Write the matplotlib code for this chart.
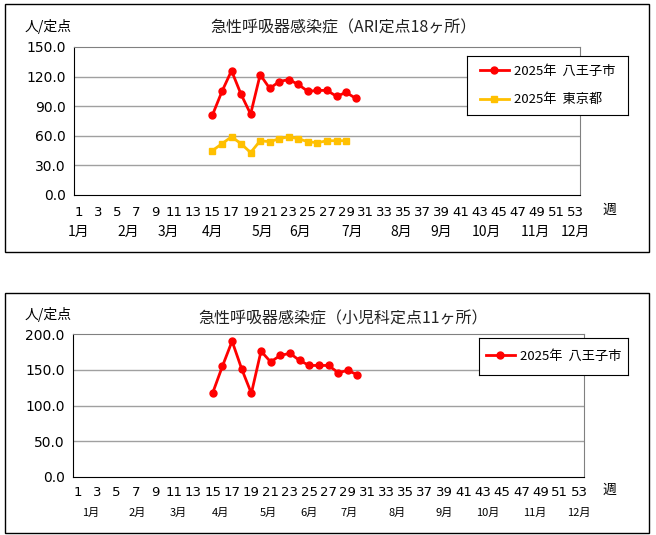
import matplotlib
matplotlib.use("Agg")
import matplotlib.pyplot as plt
from matplotlib.patches import Rectangle

plt.rcParams["font.family"] = ["Noto Sans CJK JP", "DejaVu Sans"]

weeks = list(range(15, 31))
ari_hachioji = [81, 105, 126, 102, 82, 122, 108, 115, 117, 112, 105, 106, 106, 100, 104, 98]
ari_tokyo_weeks = list(range(15, 30))
ari_tokyo = [45, 52, 59, 52, 43, 55, 54, 57, 59, 57, 54, 53, 55, 55, 55]
ped_hachioji = [118, 155, 190, 151, 117, 176, 161, 170, 173, 163, 156, 156, 156, 146, 149, 143]
week_ticks = list(range(1, 54, 2))
months = ["1月", "2月", "3月", "4月", "5月", "6月", "7月", "8月", "9月", "10月", "11月", "12月"]
month_pos_top = [1, 6.2, 10.4, 15, 20.2, 24.2, 29.6, 34.8, 39, 43.7, 48.8, 53]
month_pos_bot = [2.3, 7.2, 11.4, 15.8, 20.8, 25, 29.1, 34.1, 39, 43.5, 48.4, 53]

W, H = 656, 535
fig = plt.figure(figsize=(W/100, H/100), dpi=100)

def fx(x): return x / W
def fy(y): return 1 - y / H

def frame(x0, y0, x1, y1):
    fig.patches.append(Rectangle((fx(x0), fy(y1)), fx(x1)-fx(x0), fy(y0)-fy(y1),
                                 transform=fig.transFigure, fill=False, ec="black", lw=1))

def panel(px0, py0, px1, py1, ymax, ystep, title, tlabel_y, mlabel_y, mpos, mfs, series, leg, ty, uy):
    ax = fig.add_axes([fx(px0), fy(py1), fx(px1)-fx(px0), fy(py0)-fy(py1)])
    ax.set_xlim(0.5, 53.5)
    ax.set_ylim(0, ymax)
    yt = [i*ystep for i in range(int(ymax/ystep)+1)]
    ax.set_yticks(yt)
    ax.set_yticklabels([f"{v:.1f}" for v in yt], fontsize=10, family="DejaVu Sans")
    ax.tick_params(axis="y", length=0, pad=6)
    ax.set_xticks([])
    for v in yt[1:-1]:
        ax.axhline(v, color="#a0a0a0", lw=1, zorder=0)
    for s in ax.spines.values():
        s.set_color("#808080")
    ax.spines["left"].set_color("black")
    ax.spines["bottom"].set_color("black")
    handles = []
    for xs, ys, c, m, lab in series:
        h, = ax.plot(xs, ys, color=c, marker=m, ms=5, lw=2, label=lab)
        handles.append(h)
    for w in week_ticks:
        xd = ax.transData.transform((w, 0))[0]
        fig.text(xd / fig.bbox.width, fy(tlabel_y), str(w), fontsize=9.5,
                 family="DejaVu Sans", ha="center", va="center")
    for p, mname in zip(mpos, months):
        xd = ax.transData.transform((p, 0))[0]
        fig.text(xd / fig.bbox.width, fy(mlabel_y), mname, fontsize=mfs, ha="center", va="center")
    fig.text(fx(609), fy(tlabel_y-3), "週", fontsize=10, ha="center", va="center")
    fig.text(fx(343), fy(ty), title, fontsize=11.5, ha="center", va="center", color="#222222")
    fig.text(fx(48), fy(uy), "人/定点", fontsize=10, ha="center", va="center")
    lx0, ly0, lx1, ly1 = leg
    lax = fig.add_axes([fx(lx0), fy(ly1), fx(lx1)-fx(lx0), fy(ly0)-fy(ly1)])
    lax.set_xticks([]); lax.set_yticks([])
    for s in lax.spines.values():
        s.set_color("black")
    lax.legend(handles=handles, loc="center", frameon=False, fontsize=9.5,
               labelspacing=1.2, handlelength=2.2, handletextpad=0.4)

frame(5, 4, 649, 252)
frame(5, 293, 649, 533)

panel(74, 47, 580, 195, 150, 30, "急性呼吸器感染症（ARI定点18ヶ所）", 213, 232, month_pos_top, 10,
      [(weeks, ari_hachioji, "#ff0000", "o", "2025年  八王子市"),
       (ari_tokyo_weeks, ari_tokyo, "#ffc000", "s", "2025年  東京都")],
      (467, 56, 628, 115), 28, 27)

panel(73, 334, 584, 477, 200, 50, "急性呼吸器感染症（小児科定点11ヶ所）", 493, 513, month_pos_bot, 8,
      [(weeks, ped_hachioji, "#ff0000", "o", "2025年  八王子市")],
      (479, 338, 628, 375), 319, 315)

fig.savefig("out.png", dpi=100)
